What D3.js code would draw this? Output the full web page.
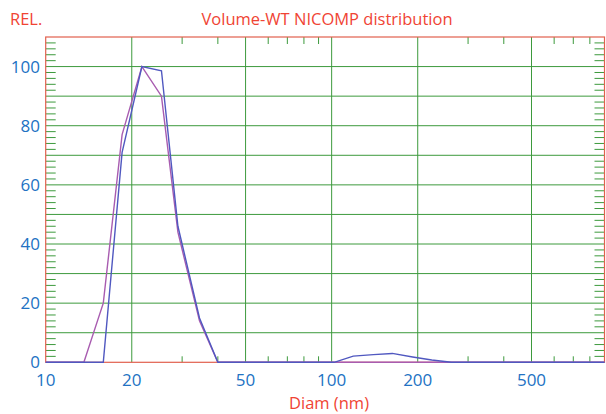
<!DOCTYPE html>
<html>
<head>
<meta charset="utf-8">
<script src="https://cdn.jsdelivr.net/npm/d3@7"></script>
<style>
  body { margin: 0; background: #fff; }
  svg { display: block; font-family: "Open Sans", sans-serif; }
</style>
</head>
<body>
<div id="chart"></div>
<script>
// values
const blueDiam = [10, 15.9, 18.5, 21.7, 25.4, 29.0, 34.5, 40.0, 102, 119, 140, 163, 192, 224, 262, 900];
const blueVal  = [0, 0, 71, 100, 98.6, 46, 15, 0, 0, 2.1, 2.6, 3.0, 1.8, 0.8, 0, 0];
const purpleDiam = [10, 13.6, 15.9, 18.5, 21.7, 25.4, 29.0, 34.5, 40.0, 900];
const purpleVal  = [0, 0, 20, 77, 100, 90, 44, 14, 0, 0];

const xGrid = [20, 50, 100, 200, 500];
const xLabels = [10, 20, 50, 100, 200, 500];
const xMinor = [30, 40, 60, 70, 80, 90, 300, 400, 600, 700, 800];
const yGrid = [10, 20, 30, 40, 50, 60, 70, 80, 90, 100];
const yLabels = [0, 20, 40, 60, 80, 100];

const W = 606, H = 414;
const pL = 45.7, pR = 604.5, pT = 37, pB = 362.3;

const RED = "#e2604e", GREEN = "#3d9a3d", LABEL = "#2272c3", TITLE = "#f04434";

const x = d3.scaleLog().domain([10, 900]).range([pL, pR]);
const y = d3.scaleLinear().domain([0, 110]).range([pB, pT]);

const svg = d3.select("#chart").append("svg").attr("width", W).attr("height", H);

// grid
svg.append("g").selectAll("line").data(yGrid).join("line")
  .attr("x1", pL).attr("x2", pR)
  .attr("y1", d => y(d)).attr("y2", d => y(d))
  .attr("stroke", GREEN).attr("stroke-width", 1);
svg.append("g").selectAll("line").data(xGrid).join("line")
  .attr("x1", d => x(d)).attr("x2", d => x(d))
  .attr("y1", pT).attr("y2", pB)
  .attr("stroke", GREEN).attr("stroke-width", 1);

// minor y ticks, left and right
const yMinor = d3.range(2, 110, 2).filter(d => d % 10 !== 0);
svg.append("g").selectAll("line").data(yMinor).join("line")
  .attr("x1", pL).attr("x2", pL + 10)
  .attr("y1", d => y(d)).attr("y2", d => y(d))
  .attr("stroke", GREEN);
svg.append("g").selectAll("line").data(yMinor).join("line")
  .attr("x1", pR - 10).attr("x2", pR)
  .attr("y1", d => y(d)).attr("y2", d => y(d))
  .attr("stroke", GREEN);

// minor x ticks, top and bottom
svg.append("g").selectAll("line").data(xMinor).join("line")
  .attr("x1", d => x(d)).attr("x2", d => x(d))
  .attr("y1", pT).attr("y2", pT + 7)
  .attr("stroke", GREEN);
svg.append("g").selectAll("line").data(xMinor).join("line")
  .attr("x1", d => x(d)).attr("x2", d => x(d))
  .attr("y1", pB - 6).attr("y2", pB)
  .attr("stroke", GREEN);

// frame
svg.append("rect").attr("x", pL).attr("y", pT)
  .attr("width", pR - pL).attr("height", pB - pT)
  .attr("fill", "none").attr("stroke", RED).attr("stroke-width", 1.2);

// series
const line = d3.line().x(d => x(d[0])).y(d => y(d[1]));
svg.append("path").datum(d3.zip(purpleDiam, purpleVal))
  .attr("d", line).attr("fill", "none")
  .attr("stroke", "#a85cb0").attr("stroke-width", 1.4);
svg.append("path").datum(d3.zip(blueDiam, blueVal))
  .attr("d", line).attr("fill", "none")
  .attr("stroke", "#5058c0").attr("stroke-width", 1.4);

// tick labels
svg.append("g").selectAll("text").data(yLabels).join("text")
  .attr("x", 40).attr("y", d => y(d)).attr("dy", "0.36em")
  .attr("text-anchor", "end").attr("fill", LABEL).attr("font-size", 17)
  .text(d => d);
svg.append("g").selectAll("text").data(xLabels).join("text")
  .attr("x", d => x(d)).attr("y", 386)
  .attr("text-anchor", "middle").attr("fill", LABEL).attr("font-size", 17)
  .text(d => d);

// titles
svg.append("text").attr("x", 10).attr("y", 25)
  .attr("fill", TITLE).attr("font-size", 16.5).text("REL.");
svg.append("text").attr("x", 327).attr("y", 25).attr("text-anchor", "middle")
  .attr("fill", TITLE).attr("font-size", 16.5).text("Volume-WT NICOMP distribution");
svg.append("text").attr("x", 329).attr("y", 409).attr("text-anchor", "middle")
  .attr("fill", TITLE).attr("font-size", 16.5).text("Diam (nm)");
</script>
</body>
</html>
